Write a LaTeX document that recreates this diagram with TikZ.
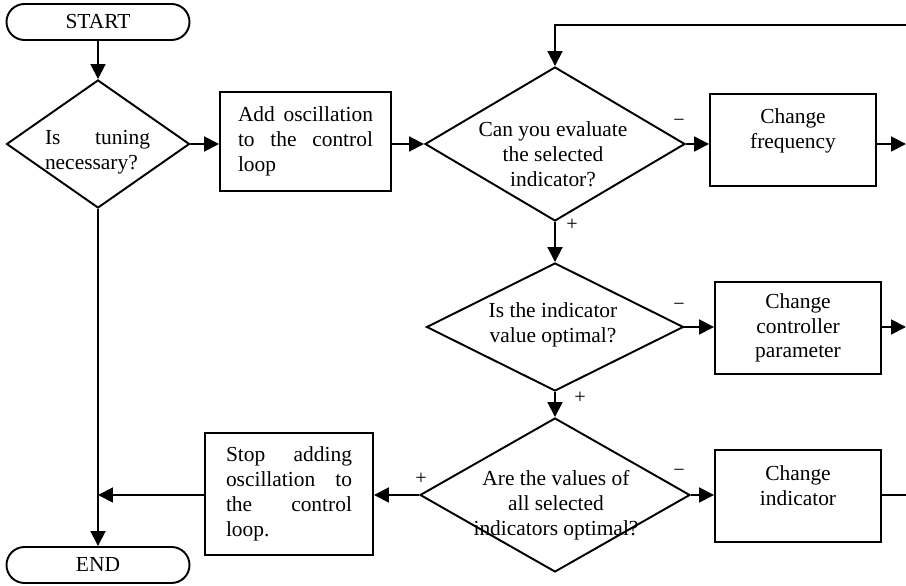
\documentclass[tikz,border=0pt]{standalone}
\usepackage{fontspec}
\setmainfont{Liberation Serif}
\usetikzlibrary{arrows.meta,positioning,shapes.geometric,shapes.misc}
\tikzset{
  flow/.style={line width=1.1pt,-{Triangle[length=8.5pt,width=8.5pt]}},
  plain/.style={line width=1.1pt},
  term/.style={draw,line width=1.1pt,rounded rectangle,minimum width=3.66cm,minimum height=0.72cm,inner sep=0pt},
  ask/.style={draw,line width=1.1pt,diamond,inner sep=0pt},
  act/.style={draw,line width=1.1pt,rectangle,inner sep=0pt,align=center},
  jst/.style={align=justify,text width=#1,inner sep=0pt},
  say/.style={align=center,inner sep=0pt},
  sign/.style={font=\fontsize{11.5}{13}\selectfont,inner sep=0pt}
}
\begin{document}
\begin{tikzpicture}[font=\fontsize{12.2}{14.1}\selectfont]
  \useasboundingbox (0,0) rectangle (18.12,11.72);
  \coordinate (rim) at (18.12,0);
  \coordinate (top) at (0,11.22);
  % left column
  \node[term] (start) at (1.96,11.28) {START};
  \node[ask,minimum width=3.66cm,minimum height=2.56cm] (d1) at (1.96,8.84) {};
  \node[jst=2.1cm] (q1) at (1.95,8.68) {Is tuning\linebreak necessary?};
  \node[term] (end) at (1.96,0.42) {END};
  \node[act,minimum width=3.42cm,minimum height=1.98cm,jst=2.7cm] (b1) at (6.11,8.89)
    {Add oscillation\linebreak to the control\linebreak loop};
  \node[act,minimum width=3.36cm,minimum height=2.44cm,jst=2.52cm] (b4) at (5.78,1.84)
    {Stop adding\linebreak oscillation to\linebreak the control\linebreak loop.};
  % decisions
  \node[ask,minimum width=5.2cm,minimum height=3.08cm] (d2) at (11.10,8.84) {};
  \node[say] (q2) at (11.06,8.64) {Can you evaluate\\the selected\\indicator?};
  \node[ask,minimum width=5.14cm,minimum height=2.56cm] (d3) at (11.10,5.18) {};
  \node[say] (q3) at (11.06,5.22) {Is the indicator\\value optimal?};
  \node[ask,minimum width=5.4cm,minimum height=3.08cm] (d4) at (11.10,1.82) {};
  \node[say] (q4) at (11.12,1.62) {Are the values of\\all selected\\indicators optimal?};
  % changes
  \node[act,minimum width=3.32cm,minimum height=1.84cm] (b2) at (15.86,8.92) {};
  \node[say,below=0.31cm of b2.north] (c2) {Change\\frequency};
  \node[act,minimum width=3.32cm,minimum height=1.84cm] (b3) at (15.96,5.16)
    {Change\\controller\\parameter};
  \node[act,minimum width=3.32cm,minimum height=1.84cm] (b5) at (15.96,1.80) {};
  \node[say,below=0.32cm of b5.north] (c5) {Change\\indicator};
  % signs
  \node[sign] (s1) at (13.58,9.26) {−};
  \node[sign] (s2) at (13.58,5.58) {−};
  \node[sign] (s3) at (13.58,2.26) {−};
  \node[sign] (p1) at (11.44,7.22) {+};
  \node[sign] (p2) at (11.60,3.76) {+};
  \node[sign] (p3) at (8.42,2.14) {+};
  % connectors
  \draw[flow] (start) -- (d1);
  \draw[flow] (d1.east) -- (d1.east -| b1.west);
  \draw[flow] (d2.west -| b1.east) -- (d2.west);
  \draw[flow] (d2.east) -- (d2.east -| b2.west);
  \draw[flow] (d2.east -| b2.east) -- (d2.east -| rim);
  \draw[flow] (rim |- top) -- (d2.north |- top) -- (d2.north);
  \draw[flow] (d2.south) -- (d3.north);
  \draw[flow] (d3.east) -- (d3.east -| b3.west);
  \draw[flow] (d3.east -| b3.east) -- (d3.east -| rim);
  \draw[flow] (d3.south) -- (d4.north);
  \draw[flow] (d4.east) -- (d4.east -| b5.west);
  \draw[plain] (d4.east -| b5.east) -- (d4.east -| rim);
  \draw[flow] (d4.west) -- (d4.west -| b4.east);
  \draw[flow] (d4.west -| b4.west) -- (d4.west -| d1.south);
  \draw[flow] (d1.south) -- (end.north);
\end{tikzpicture}
\end{document}
